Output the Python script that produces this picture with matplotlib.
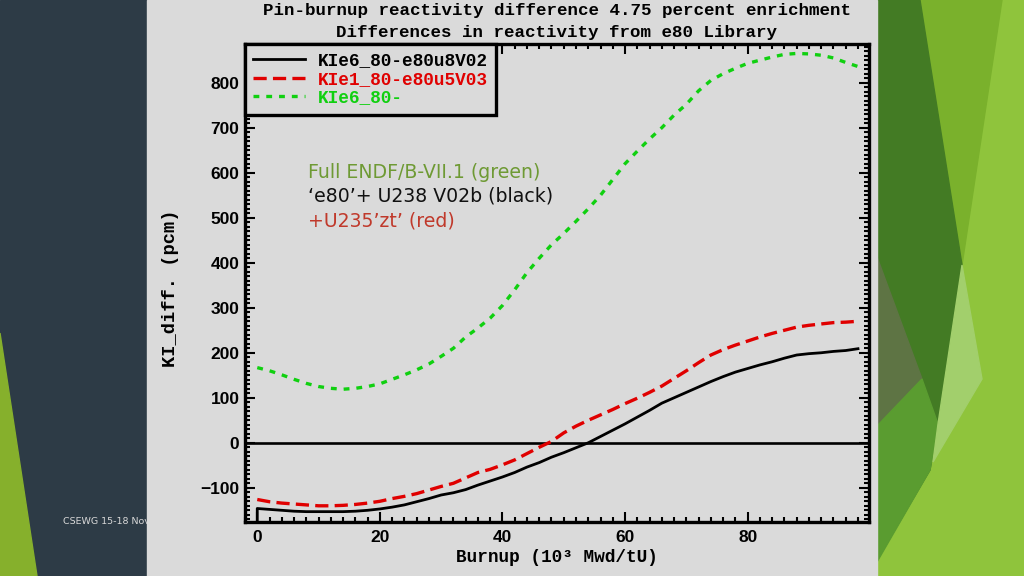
import matplotlib
matplotlib.use('Agg')
import matplotlib.pyplot as plt
from matplotlib.patches import Polygon, Rectangle
from matplotlib.ticker import MultipleLocator

# ---------------- data ----------------
burnup = [0, 2, 4, 6, 8, 10, 12, 14, 16, 18, 20, 22, 24, 26, 28, 30, 32, 34, 36, 38,
          40, 42, 44, 46, 48, 50, 52, 54, 56, 58, 60, 62, 64, 66, 68, 70, 72, 74, 76, 78,
          80, 82, 84, 86, 88, 90, 92, 94, 96, 98]

black_vals = [-146, -148, -150, -152, -153, -153, -153, -153, -152, -150, -147, -143, -138, -131,
              -124, -116, -111, -104, -94, -85, -76, -66, -54, -44, -32, -22, -11, 0, 14, 28,
              42, 57, 72, 88, 100, 112, 124, 136, 147, 157, 165, 173, 180, 188, 195, 198, 200,
              203, 205, 209]

red_vals = [-126, -131, -134, -136, -138, -140, -140, -139, -137, -134, -130, -124, -119, -113,
            -105, -97, -90, -78, -66, -59, -49, -38, -24, -10, 3, 22, 37, 50, 62, 74,
            87, 99, 112, 126, 143, 160, 178, 195, 207, 217, 226, 235, 243, 250, 257, 261, 264,
            267, 268, 270]

green_vals = [167, 160, 151, 141, 132, 125, 121, 119, 121, 125, 131, 141, 151, 162, 175, 192,
              210, 235, 255, 277, 305, 340, 378, 410, 440, 465, 492, 520, 550, 585, 620, 648,
              675, 700, 728, 752, 782, 805, 820, 832, 843, 850, 857, 863, 865, 864, 861, 855,
              845, 836]

# black curve starts with a vertical stroke from below the axis at zero burnup
black_x = [0] + burnup
black_y = [-190] + black_vals

series_labels = ['KIe6_80-e80u8V02', 'KIe1_80-e80u5V03', 'KIe6_80-']
title_lines = ['Pin-burnup reactivity difference 4.75 percent enrichment',
               'Differences in reactivity from e80 Library']
note_lines = ['Full ENDF/B-VII.1 (green)', '\u2018e80\u2019+ U238 V02b (black)', '+U235\u2019zt\u2019 (red)']
note_colors = ['#6e9a34', '#111111', '#c0392b']
footer = 'CSEWG 15-18 November'

# ---------------- figure ----------------
plt.rcParams['lines.scale_dashes'] = False
W, H = 1024, 576
fig = plt.figure(figsize=(W / 100, H / 100), dpi=100)
fig.patch.set_facecolor('#dadada')

bg = fig.add_axes([0, 0, 1, 1], zorder=-5)
bg.set_xlim(0, W)
bg.set_ylim(H, 0)
bg.axis('off')

# left slide panel
bg.add_patch(Rectangle((0, 0), 147, H, color='#2d3b46', zorder=1))
bg.add_patch(Polygon([(0, 333), (37, 576), (0, 576)], color='#86b02c', zorder=1.5))
t = bg.text(63, 522, footer, color='#d8d8d8', fontsize=6.8, family='DejaVu Sans',
            va='center', ha='left', zorder=2)
t.set_clip_path(Rectangle((0, 0), 147, H, transform=bg.transData))

# right slide panel (green facets)
bg.add_patch(Rectangle((877, 0), 147, H, color='#8fc43c', zorder=1))
bg.add_patch(Polygon([(920, 0), (1002, 0), (962, 265)], color='#7ab12c', zorder=1.2))
bg.add_patch(Polygon([(877, 0), (920, 0), (962, 265), (938, 424), (930, 470), (877, 560)],
                     color='#437b24', zorder=1.3))
bg.add_patch(Polygon([(877, 257), (922, 379), (877, 426)], color='#5e7444', zorder=1.4))
bg.add_patch(Polygon([(877, 426), (922, 379), (938, 424), (930, 470), (877, 562)],
                     color='#5a9c30', zorder=1.4))
bg.add_patch(Polygon([(962, 265), (982, 379), (933, 462), (938, 424)], color='#a2cf6c', zorder=1.4))

# chart image background
bg.add_patch(Rectangle((147, 0), 730, H, color='#dadada', zorder=3))

# ---------------- main axes ----------------
ax = fig.add_axes([245 / W, 1 - 522 / H, 624 / W, 478 / H])
ax.set_facecolor('none')

ax.axhline(0, color='black', lw=1.9, zorder=2)
ax.plot(black_x, black_y, color='black', lw=2.0, label=series_labels[0], zorder=3)
ax.plot(burnup, red_vals, color='#e00000', lw=2.4, dashes=(9.5, 4.5), label=series_labels[1], zorder=3)
ax.plot(burnup, green_vals, color='#10d010', lw=2.4, dashes=(4.2, 5), label=series_labels[2], zorder=3)

ax.set_xlim(-2, 99.8)
ax.set_ylim(-176, 886)

ax.xaxis.set_major_locator(MultipleLocator(20))
ax.xaxis.set_minor_locator(MultipleLocator(2))
ax.yaxis.set_major_locator(MultipleLocator(100))
ax.yaxis.set_minor_locator(MultipleLocator(10))
ax.tick_params(which='both', direction='in', top=True, right=True, width=1.5, color='black')
ax.tick_params(which='major', length=7)
ax.tick_params(which='minor', length=3.5)
ax.tick_params(axis='y', which='major', pad=4)
ax.tick_params(axis='x', which='major', pad=6)
for lbl in ax.get_xticklabels() + ax.get_yticklabels():
    lbl.set_family('Liberation Sans')
    lbl.set_weight('bold')
    lbl.set_fontsize(12.5)
for sp in ax.spines.values():
    sp.set_linewidth(2.4)

mono = dict(family='Liberation Mono', weight='bold')
ax.set_ylabel('KI_diff. (pcm)', fontsize=13.5, **mono)
ax.yaxis.set_label_coords((179 - 245) / 624, 0.49)
ax.set_xlabel('Burnup (10\u00b3 Mwd/tU)', fontsize=12.8, **mono)
ax.xaxis.set_label_coords(0.5, (522 - 558) / 478)
ax.xaxis.label.set_va('center')

fig.text(557 / W, 1 - 11 / H, title_lines[0], ha='center', va='center', fontsize=12.6, **mono)
fig.text(557 / W, 1 - 32 / H, title_lines[1], ha='center', va='center', fontsize=12.6, **mono)

leg = ax.legend(loc='upper left', bbox_to_anchor=(0, 1), borderaxespad=0, fancybox=False,
                frameon=True, edgecolor='black', facecolor='#dadada', framealpha=1,
                prop=dict(family='Liberation Mono', weight='bold', size=12.8),
                labelcolor='linecolor', handlelength=2.9, handletextpad=0.75,
                labelspacing=0.1, borderpad=0.45)
leg.get_frame().set_linewidth(2.4)

for i, (s, c) in enumerate(zip(note_lines, note_colors)):
    ax.text((308 - 245) / 624, (522 - (172 + 24.5 * i)) / 478, s, color=c, fontsize=13.6,
            family='DejaVu Sans', transform=ax.transAxes, ha='left', va='center')

fig.savefig('out.png', dpi=100, facecolor=fig.get_facecolor())
